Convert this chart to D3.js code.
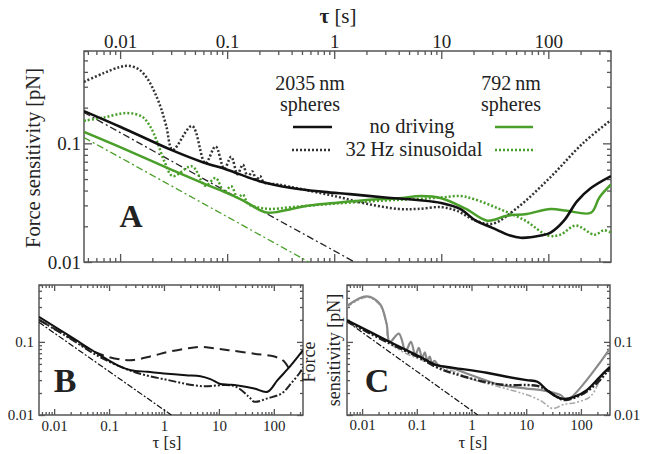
<!DOCTYPE html>
<html>
<head>
<meta charset="utf-8">
<script src="https://cdn.jsdelivr.net/npm/d3@7"></script>
<style>
body { margin: 0; background: #fff; }
svg text { fill: #222; }
</style>
</head>
<body>
<script>
// ---- data: [tau (s), force sensitivity (pN)] ----
// panel A, 2035 nm spheres
var a2035Still = [[0.0046,0.187],[0.01,0.138],[0.03,0.088],[0.06,0.069],[0.1,0.06],[0.2,0.048],[0.4,0.042],[0.8,0.039],[1.4,0.0373],[3,0.035],[6,0.0333],[10,0.0314],[15,0.028],[21,0.0223],[30,0.0194],[44,0.0167],[55,0.016],[85,0.0167],[105,0.0177],[140,0.0223],[186,0.0326],[250,0.042],[385,0.053]];
var a2035Sine = [[0.0046,0.33],[0.007,0.39],[0.01,0.44],[0.012,0.45],[0.015,0.42],[0.018,0.35],[0.021,0.27],[0.024,0.2],[0.027,0.14],[0.031,0.088],[0.047,0.14],[0.0625,0.068],[0.078,0.094],[0.094,0.061],[0.109,0.077],[0.125,0.055],[0.14,0.066],[0.156,0.052],[0.172,0.058],[0.1875,0.049],[0.203,0.053],[0.22,0.047],[0.3,0.045],[0.5,0.041],[1,0.036],[2,0.031],[4,0.028],[6,0.028],[10,0.029],[14,0.027],[21,0.0223],[30,0.021],[51,0.0285],[105,0.052],[210,0.1],[385,0.157]];
var a2035Limit = [[0.0046,0.182],[0.1,0.039],[1.55,0.01]];
// panel A, 792 nm spheres
var a792Still = [[0.0046,0.125],[0.01,0.093],[0.03,0.06],[0.06,0.046],[0.1,0.038],[0.15,0.032],[0.2,0.0275],[0.24,0.026],[0.3,0.0265],[0.4,0.028],[0.55,0.0297],[1,0.0314],[2,0.0333],[4,0.0345],[6.5,0.036],[10,0.0345],[17,0.028],[27,0.0223],[41,0.0245],[63,0.0254],[105,0.028],[150,0.027],[250,0.026],[300,0.035],[385,0.045]];
var a792Sine = [[0.0046,0.155],[0.007,0.165],[0.0115,0.18],[0.016,0.168],[0.019,0.14],[0.022,0.105],[0.026,0.07],[0.031,0.053],[0.047,0.064],[0.0625,0.044],[0.078,0.051],[0.094,0.039],[0.109,0.0435],[0.125,0.035],[0.14,0.037],[0.156,0.031],[0.19,0.029],[0.25,0.028],[0.4,0.029],[1,0.031],[3,0.033],[6,0.034],[10,0.035],[15,0.036],[20,0.034],[35,0.028],[60,0.0225],[100,0.0167],[130,0.017],[180,0.0203],[270,0.017],[330,0.0185],[385,0.0177]];
var a792Limit = [[0.0046,0.112],[0.58,0.01]];
// panel B
var bSolid = [[0.0053,0.22],[0.02,0.118],[0.06,0.07],[0.15,0.047],[0.25,0.041],[0.5,0.039],[1,0.037],[2.5,0.035],[4.6,0.034],[7,0.031],[10.7,0.0265],[15,0.026],[19,0.0257],[25,0.025],[44,0.023],[77,0.0208],[117,0.03],[206,0.048],[340,0.077]];
var bDashed = [[0.0053,0.2],[0.02,0.112],[0.05,0.075],[0.1,0.062],[0.18,0.057],[0.28,0.0565],[0.6,0.064],[1.2,0.073],[2.5,0.081],[4.6,0.0855],[8,0.082],[15,0.077],[44,0.069],[110,0.062],[150,0.055],[200,0.04]];
var bDashDot2 = [[0.0053,0.2],[0.02,0.11],[0.068,0.062],[0.28,0.039],[1.2,0.03],[4.6,0.0249],[19,0.0249],[35,0.0178],[44,0.0152],[77,0.0169],[140,0.0198],[206,0.027],[290,0.037],[340,0.045]];
var bLimit = [[0.0053,0.185],[1.36,0.01]];
// panel C
var cBlack = [[0.0053,0.198],[0.028,0.105],[0.115,0.0625],[0.23,0.048],[0.47,0.0442],[1.9,0.0378],[4.4,0.0334],[10.2,0.03],[16,0.0285],[23.7,0.022],[35,0.018],[47.7,0.0166],[73,0.0175],[128,0.0219],[223,0.0333],[340,0.0456]];
var cBlackDot2 = [[0.0053,0.19],[0.028,0.1],[0.115,0.06],[0.23,0.045],[0.47,0.037],[1.9,0.028],[4.4,0.0257],[10.2,0.0257],[16,0.025],[23.7,0.022],[35,0.018],[47.7,0.016],[73,0.017],[128,0.021],[223,0.03],[340,0.044]];
var cGray = [[0.0053,0.31],[0.0121,0.42],[0.0212,0.33],[0.028,0.178],[0.032,0.1],[0.047,0.13],[0.0625,0.075],[0.078,0.1],[0.094,0.066],[0.109,0.083],[0.125,0.06],[0.14,0.072],[0.156,0.055],[0.172,0.063],[0.19,0.051],[0.21,0.055],[0.25,0.048],[0.46,0.0434],[1,0.035],[3.4,0.0257],[10,0.023],[19,0.0219],[43,0.0187],[55,0.016],[340,0.081]];
var cGrayDot2 = [[0.0053,0.3],[0.0121,0.41],[0.0212,0.32],[0.028,0.17],[0.032,0.098],[0.25,0.046],[0.46,0.04],[1,0.031],[3.4,0.024],[10,0.019],[19,0.0155],[30,0.0123],[50,0.014],[80,0.0148],[150,0.018],[257,0.037],[340,0.045]];
var cLimit = [[0.0053,0.19],[1.3,0.01]];

var tickLabels = ["0.01", "0.1", "1", "10", "100"];
var green = "#4a9f2a";
var serif = "'Liberation Serif', 'DejaVu Serif', Tinos, 'Times New Roman', Times, serif";

var svg = d3.select("body").append("svg")
    .attr("width", 653)
    .attr("height", 454)
    .attr("font-family", serif);

function isMajor(d) {
    var l = Math.log10(d);
    return Math.abs(l - Math.round(l)) < 1e-6;
}
function fmt(d) {
    var s = String(+d.toPrecision(6));
    return tickLabels.indexOf(s) >= 0 ? s : "";
}

// draws frame + inward ticks on all four sides, then the curves
function makePanel(o) {
    var x = d3.scaleLog().domain(o.xDomain).range(o.xRange);
    var y = d3.scaleLog().domain([0.01, 0.6]).range(o.yRange);
    var g = svg.append("g");
    var xt = x.ticks(), yt = y.ticks();
    var sides = [
        {axis: d3.axisTop(x), ticks: xt, tr: "translate(0," + o.yRange[1] + ")", lab: o.labTop},
        {axis: d3.axisBottom(x), ticks: xt, tr: "translate(0," + o.yRange[0] + ")", lab: o.labBottom},
        {axis: d3.axisLeft(y), ticks: yt, tr: "translate(" + o.xRange[0] + ",0)", lab: o.labLeft},
        {axis: d3.axisRight(y), ticks: yt, tr: "translate(" + o.xRange[1] + ",0)", lab: o.labRight}
    ];
    sides.forEach(function (s) {
        var minor = s.ticks.filter(function (d) { return !isMajor(d); });
        var major = s.ticks.filter(isMajor);
        var gm = g.append("g").attr("transform", s.tr)
            .call(s.axis.tickValues(minor).tickSize(-o.minor).tickFormat(""));
        gm.select(".domain").remove();
        var gM = g.append("g").attr("transform", s.tr)
            .call(s.axis.tickValues(major).tickSize(-o.major).tickPadding(o.pad)
                .tickFormat(s.lab ? fmt : ""));
        gM.select(".domain").remove();
        gM.attr("font-family", serif).attr("font-size", o.font);
        gM.selectAll("text").attr("fill", "#222");
    });
    g.selectAll(".tick line").attr("stroke", "#555").attr("stroke-width", 1.3);
    g.append("rect")
        .attr("x", o.xRange[0]).attr("y", o.yRange[1])
        .attr("width", o.xRange[1] - o.xRange[0])
        .attr("height", o.yRange[0] - o.yRange[1])
        .attr("fill", "none").attr("stroke", "#555").attr("stroke-width", 1.5);
    var clipId = "clip" + o.name;
    svg.append("clipPath").attr("id", clipId).append("rect")
        .attr("x", o.xRange[0]).attr("y", o.yRange[1])
        .attr("width", o.xRange[1] - o.xRange[0])
        .attr("height", o.yRange[0] - o.yRange[1]);
    var lines = svg.append("g").attr("clip-path", "url(#" + clipId + ")");
    var line = d3.line()
        .x(function (d) { return x(d[0]); })
        .y(function (d) { return y(d[1]); })
        .curve(d3.curveCatmullRom.alpha(0.5));
    o.series.forEach(function (s) {
        lines.append("path")
            .datum(s.data)
            .attr("d", line)
            .attr("fill", "none")
            .attr("stroke", s.color)
            .attr("stroke-width", s.width)
            .attr("stroke-dasharray", s.dash || null);
    });
}

// panel A
makePanel({
    name: "A", xDomain: [0.0046, 385], xRange: [84, 611], yRange: [262, 51],
    major: 8, minor: 4, pad: 3, font: 19,
    labTop: true, labLeft: true,
    series: [
        {data: a2035Limit, color: "#222", width: 1.3, dash: "7,3,2,3"},
        {data: a792Limit, color: green, width: 1.3, dash: "7,3,2,3"},
        {data: a792Sine, color: green, width: 2.5, dash: "2,2"},
        {data: a2035Sine, color: "#333", width: 2.5, dash: "2,2"},
        {data: a792Still, color: green, width: 2.5},
        {data: a2035Still, color: "#111", width: 2.6}
    ]
});

// panel B
makePanel({
    name: "B", xDomain: [0.0053, 340], xRange: [39, 303], yRange: [415, 285],
    major: 6, minor: 3, pad: 5, font: 15,
    labBottom: true, labLeft: true,
    series: [
        {data: bLimit, color: "#111", width: 1.2, dash: "6,2,2,2"},
        {data: bDashed, color: "#222", width: 2, dash: "10,6"},
        {data: bDashDot2, color: "#222", width: 2, dash: "8,2,2,2,2,2"},
        {data: bSolid, color: "#111", width: 2}
    ]
});

// panel C
makePanel({
    name: "C", xDomain: [0.0053, 340], xRange: [347, 610], yRange: [415, 285],
    major: 6, minor: 3, pad: 4, font: 15,
    labBottom: true, labRight: true,
    series: [
        {data: cLimit, color: "#111", width: 1.2, dash: "6,2,2,2"},
        {data: cGrayDot2, color: "#aaa", width: 1.6, dash: "6,2,2,2,2,2"},
        {data: cGray, color: "#8a8a8a", width: 2.2},
        {data: cBlackDot2, color: "#222", width: 2.4, dash: "8,2,2,2,2,2"},
        {data: cBlack, color: "#111", width: 2.4}
    ]
});

// axis titles
var tA = svg.append("text").attr("x", 338).attr("y", 23).attr("text-anchor", "middle").attr("font-size", 21);
tA.append("tspan").attr("font-weight", "bold").text("τ");
tA.append("tspan").text(" [s]");
svg.append("text").attr("x", 167).attr("y", 448).attr("text-anchor", "middle").attr("font-size", 17).text("τ [s]");
svg.append("text").attr("x", 473).attr("y", 448).attr("text-anchor", "middle").attr("font-size", 17).text("τ [s]");

svg.append("text").attr("transform", "translate(40,158) rotate(-90)")
    .attr("text-anchor", "middle").attr("font-size", 20.5).text("Force sensitivity [pN]");
svg.append("text").attr("transform", "translate(315,362) rotate(-90)")
    .attr("text-anchor", "middle").attr("font-size", 18).text("Force");
svg.append("text").attr("transform", "translate(340,350) rotate(-90)")
    .attr("text-anchor", "middle").attr("font-size", 18).text("sensitivity [pN]");

// panel letters
[["A", 131, 227, 32], ["B", 65, 392, 34], ["C", 377, 392, 34]].forEach(function (p) {
    svg.append("text").attr("x", p[1]).attr("y", p[2]).attr("text-anchor", "middle")
        .attr("font-size", p[3]).attr("font-weight", "bold").attr("fill", "#111").text(p[0]);
});

// legend in panel A
var leg = svg.append("g").attr("font-size", 20);
leg.append("text").attr("x", 310).attr("y", 90).attr("text-anchor", "middle").text("2035\u2009nm");
leg.append("text").attr("x", 310).attr("y", 111).attr("text-anchor", "middle").text("spheres");
leg.append("text").attr("x", 511).attr("y", 90).attr("text-anchor", "middle").text("792\u2009nm");
leg.append("text").attr("x", 511).attr("y", 111).attr("text-anchor", "middle").text("spheres");
leg.append("text").attr("x", 412).attr("y", 133).attr("text-anchor", "middle").attr("font-size", 20.5).text("no driving");
leg.append("text").attr("x", 414).attr("y", 156).attr("text-anchor", "middle").attr("font-size", 20.5).text("32\u2009Hz sinusoidal");
leg.append("line").attr("x1", 293).attr("x2", 332).attr("y1", 127).attr("y2", 127).attr("stroke", "#111").attr("stroke-width", 2.5);
leg.append("line").attr("x1", 495).attr("x2", 533).attr("y1", 127).attr("y2", 127).attr("stroke", green).attr("stroke-width", 2.5);
leg.append("line").attr("x1", 292).attr("x2", 332).attr("y1", 150).attr("y2", 150).attr("stroke", "#333").attr("stroke-width", 2.5).attr("stroke-dasharray", "2,2");
leg.append("line").attr("x1", 495).attr("x2", 533).attr("y1", 150).attr("y2", 150).attr("stroke", green).attr("stroke-width", 2.5).attr("stroke-dasharray", "2,2");
</script>
</body>
</html>
